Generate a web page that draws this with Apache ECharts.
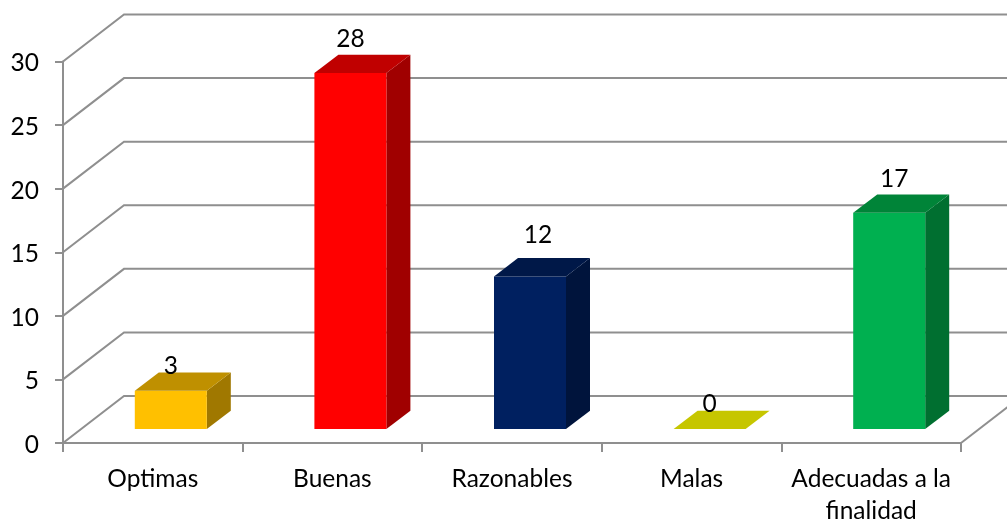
<!DOCTYPE html>
<html>
<head>
<meta charset="utf-8">
<style>html,body{margin:0;padding:0;background:#fff}#c{width:1007px;height:520px}</style>
<script src="https://cdn.jsdelivr.net/npm/echarts@6/dist/echarts.min.js"></script>
</head>
<body>
<div id="c"></div>
<script>
const categories = ['Optimas', 'Buenas', 'Razonables', 'Malas', 'Adecuadas a la\nfinalidad'];
const values = [3, 28, 12, 0, 17];
const yTicks = [0, 5, 10, 15, 20, 25, 30];
const frontColors = ['#FFC000', '#FF0000', '#002060', '#C6C600', '#00B050'];
const topColors = ['#BF9000', '#C00000', '#001848', '#C6C600', '#008438'];
const sideColors = ['#A07800', '#A00000', '#00143C', '#C6C600', '#006F30'];
// hand-placed data label nudges, relative to the bar's back top edge centre
const labelNudgeX = [-24, -24, -16, -24, -19];
const labelNudgeY = [-6, -16, -23, -7, -15];

const FONT = 'Lato, "Noto Sans", sans-serif';
const FS = 24.5;
const GRID = '#8F8F8F';
const WALL_DX = 61, WALL_DY = 47;      // depth of the chart box
const BAR_DX = 18, BAR_DY = 14;        // bar front plane inside the box
const BAR_DEPTH_X = 24, BAR_DEPTH_Y = 18.3;
const BAR_W = 72;

function renderWall(params, api) {
  const val = api.value(1);
  const bw = api.size([1, 0])[0];
  const left = api.coord([0, val])[0] - bw / 2;
  const right = api.coord([categories.length - 1, val])[0] + bw / 2;
  const y = api.coord([0, val])[1];
  const w = api.getWidth();
  const lineStyle = { stroke: GRID, lineWidth: 2, fill: null };
  const children = [{
    type: 'polyline',
    shape: { points: [[left, y], [left + WALL_DX, y - WALL_DY], [w + 4, y - WALL_DY]] },
    style: lineStyle
  }];
  if (val === 0) {
    children.push({
      type: 'line',
      shape: { x1: right, y1: y, x2: right + WALL_DX, y2: y - WALL_DY },
      style: lineStyle
    });
  }
  return { type: 'group', children };
}

function renderBar(params, api) {
  const i = api.value(0);
  const v = api.value(1);
  const c0 = api.coord([i, 0]);
  const c1 = api.coord([i, v]);
  const xl = c0[0] + BAR_DX - BAR_W / 2;
  const xr = xl + BAR_W;
  const yb = c0[1] - BAR_DY;
  const yt = c1[1] - BAR_DY;
  const dx = BAR_DEPTH_X, dy = BAR_DEPTH_Y;
  const children = [];
  if (v > 0) {
    children.push({
      type: 'polygon',
      shape: { points: [[xr, yb], [xr + dx, yb - dy], [xr + dx, yt - dy], [xr, yt]] },
      style: { fill: sideColors[i] }
    });
    children.push({
      type: 'rect',
      shape: { x: xl, y: yt, width: BAR_W, height: yb - yt },
      style: { fill: frontColors[i] }
    });
  }
  children.push({
    type: 'polygon',
    shape: { points: [[xl, yt], [xl + dx, yt - dy], [xr + dx, yt - dy], [xr, yt]] },
    style: { fill: topColors[i] }
  });
  children.push({
    type: 'text',
    style: {
      text: String(v),
      x: (xl + xr) / 2 + dx + labelNudgeX[i],
      y: yt - dy + labelNudgeY[i],
      align: 'center',
      verticalAlign: 'middle',
      font: FS + 'px ' + FONT,
      fill: '#000'
    }
  });
  return { type: 'group', children };
}

const chart = echarts.init(document.getElementById('c'), null, { renderer: 'canvas' });
chart.setOption({
  animation: false,
  backgroundColor: '#fff',
  grid: { left: 63, right: 46, top: 61.5, bottom: 77, containLabel: false, outerBoundsMode: 'none' },
  xAxis: {
    type: 'category',
    data: categories,
    boundaryGap: true,
    axisLine: { show: true, lineStyle: { color: GRID, width: 2 } },
    axisTick: { show: true, alignWithLabel: false, length: 9, lineStyle: { color: GRID, width: 2 } },
    axisLabel: { color: '#000', fontFamily: FONT, fontSize: FS, margin: 20, lineHeight: 32, interval: 0 },
    splitLine: { show: false }
  },
  yAxis: {
    type: 'value',
    min: 0, max: 30, interval: 5,
    axisLine: { show: true, lineStyle: { color: GRID, width: 2 } },
    axisTick: { show: true, length: 8, lineStyle: { color: GRID, width: 2 } },
    axisLabel: {
      color: '#000', fontFamily: FONT, fontSize: FS, margin: 24,
      formatter: v => '{t|' + v + '}',
      rich: { t: { color: '#000', fontFamily: FONT, fontSize: FS, padding: [4, 0, 0, 0] } }
    },
    splitLine: { show: false }
  },
  series: [
    {
      type: 'custom',
      coordinateSystem: 'cartesian2d',
      clip: false,
      silent: true,
      z: 1,
      encode: { x: 0, y: 1 },
      data: yTicks.map(t => [0, t]),
      renderItem: renderWall
    },
    {
      type: 'custom',
      coordinateSystem: 'cartesian2d',
      clip: false,
      silent: true,
      z: 3,
      encode: { x: 0, y: 1 },
      data: values.map((v, i) => [i, v]),
      renderItem: renderBar
    }
  ]
});
</script>
</body>
</html>
